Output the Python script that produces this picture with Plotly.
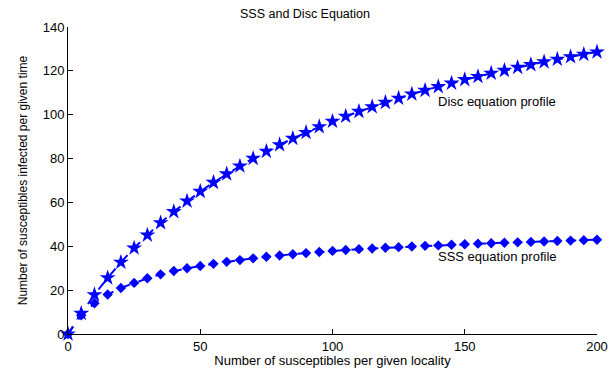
import plotly.graph_objects as go

x_vals = list(range(0, 205, 5))
disc_vals = [0, 9.4, 17.9, 25.6, 32.7, 39.2, 45.1, 50.7, 55.8, 60.6, 65.0, 69.1, 73.0, 76.6, 80.1,
             83.3, 86.3, 89.2, 91.9, 94.5, 97.0, 99.3, 101.5, 103.6, 105.6, 107.5, 109.4, 111.1,
             112.8, 114.4, 116.0, 117.4, 118.9, 120.2, 121.6, 122.8, 124.1, 125.3, 126.4, 127.5, 128.6]
sss_vals = [0, 8.5, 14.0, 18.0, 21.0, 23.3, 25.4, 27.2, 28.7, 30.0, 31.0, 32.0, 32.9, 33.7, 34.5,
            35.2, 35.8, 36.4, 36.9, 37.4, 37.9, 38.3, 38.7, 39.0, 39.3, 39.6, 39.9, 40.2, 40.4,
            40.7, 40.9, 41.2, 41.4, 41.6, 41.8, 42.0, 42.2, 42.4, 42.6, 42.8, 43.0]

title = "SSS and Disc Equation"
x_title = "Number of susceptibles per given locality"
y_title = "Number of susceptibles infected per given time"
disc_label = "Disc equation profile"
sss_label = "SSS equation profile"

blue = "#0000ff"
font = "Liberation Sans, Arial, sans-serif"

fig = go.Figure()
fig.add_trace(go.Scatter(
    x=x_vals, y=sss_vals, mode="lines+markers", cliponaxis=False,
    line=dict(color=blue, width=2, dash="dash"),
    marker=dict(symbol="diamond", size=8, color=blue, line=dict(width=0)),
    showlegend=False))
fig.add_trace(go.Scatter(
    x=x_vals, y=disc_vals, mode="lines+markers", cliponaxis=False,
    line=dict(color=blue, width=2, dash="dash"),
    marker=dict(symbol="star", size=12, color=blue, line=dict(width=0)),
    showlegend=False))

fig.add_annotation(x=139.2, y=106, text=disc_label, showarrow=False, xanchor="left",
                   yanchor="middle", font=dict(family=font, size=13, color="black"))
fig.add_annotation(x=139.2, y=35.5, text=sss_label, showarrow=False, xanchor="left",
                   yanchor="middle", font=dict(family=font, size=13, color="black"))

axis_common = dict(showgrid=False, zeroline=False, showline=True, linecolor="black",
                   linewidth=1, ticks="inside", ticklen=5, tickcolor="black", automargin=False,
                   tickfont=dict(family=font, size=13, color="black"), mirror=False)

fig.update_layout(
    width=610, height=368,
    margin=dict(l=68, r=13, t=27, b=34),
    paper_bgcolor="white", plot_bgcolor="white",
    title=dict(text=title, x=0.5, xanchor="center", y=0.962, yanchor="middle",
               font=dict(family=font, size=12.5, color="black")),
    xaxis=dict(range=[0, 200], tickvals=[0, 50, 100, 150, 200],
               title=dict(text=x_title, standoff=0, font=dict(family=font, size=13, color="black")),
               **axis_common),
    yaxis=dict(range=[0, 140], tickvals=[0, 20, 40, 60, 80, 100, 120, 140],
               title=dict(text=y_title, standoff=12, font=dict(family=font, size=12, color="black")),
               **axis_common),
)

fig.write_html("out.html")
